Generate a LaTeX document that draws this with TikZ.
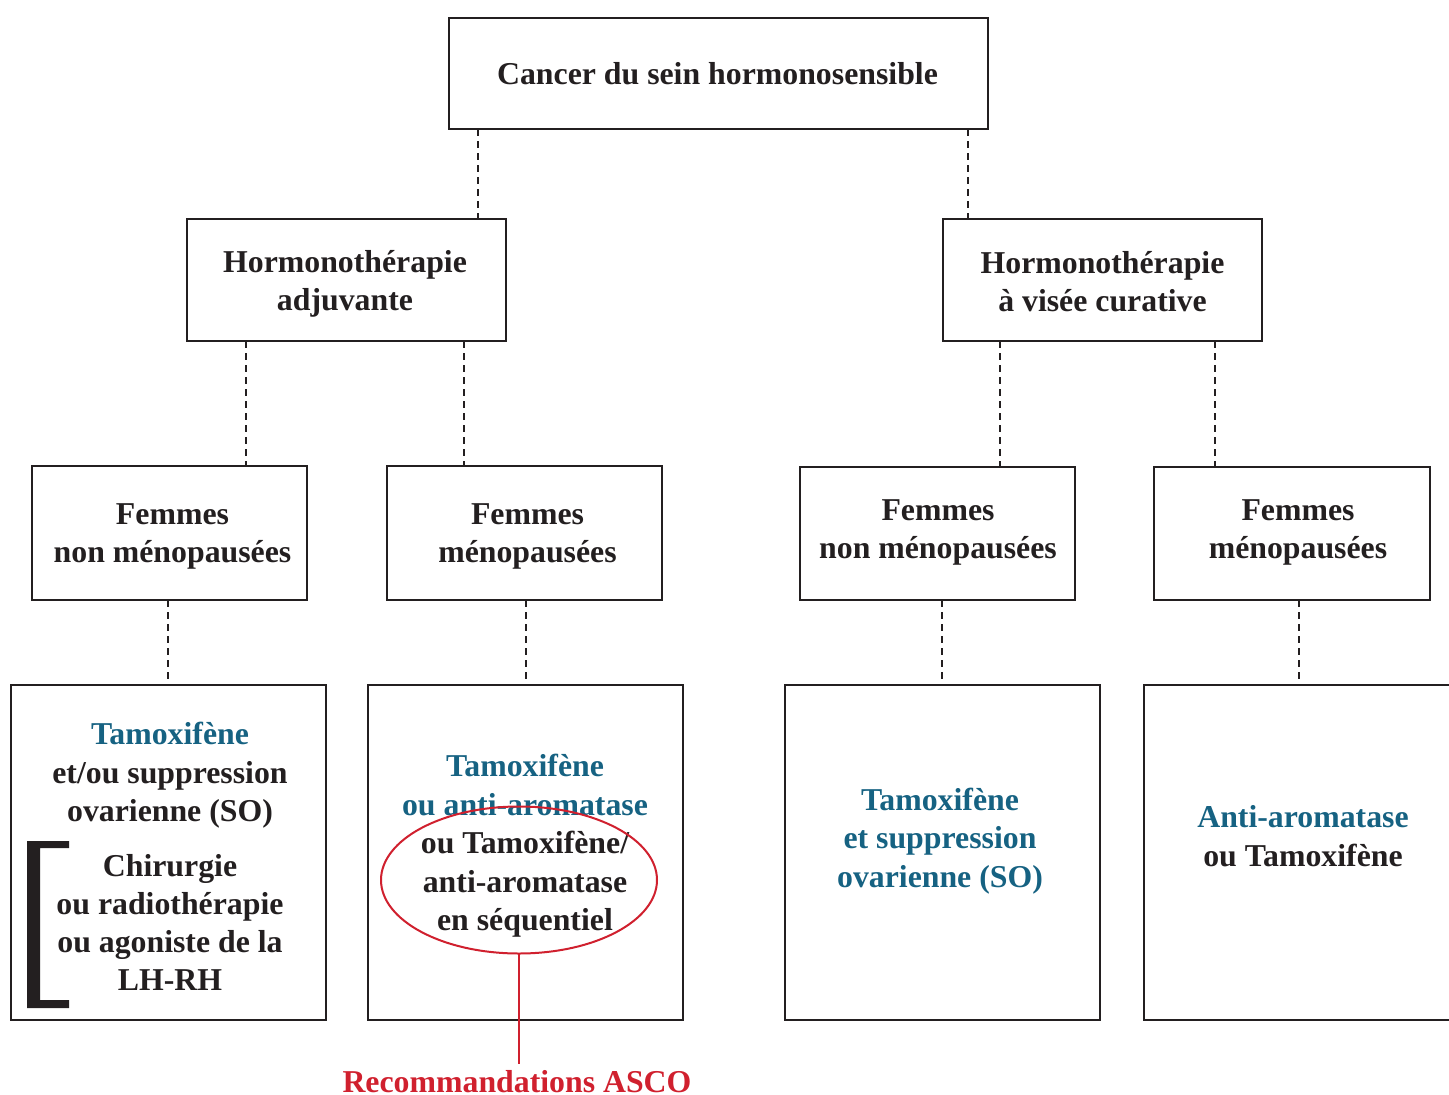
\documentclass[tikz,border=0pt]{standalone}
\usepackage{fontspec}
\setmainfont{Liberation Serif}
\usetikzlibrary{calc,shapes.geometric}
\definecolor{tblue}{RGB}{22,98,130}
\definecolor{tred}{RGB}{208,32,46}
\definecolor{tblack}{RGB}{35,31,32}
\begin{document}
\begin{tikzpicture}[x=1pt,y=-1pt,
  box/.style={draw=tblack, line width=2.6pt, inner sep=0pt, outer sep=0pt, anchor=north west},
  txt/.style={font=\bfseries\fontsize{31.8}{38.5}\selectfont, align=center, text=tblack, inner sep=0pt},
  conn/.style={draw=tblack, line width=2.8pt, dash pattern=on 7pt off 5pt},
  redl/.style={draw=tred, line width=2pt}]
\useasboundingbox (0,0) rectangle (1449,1095);
\clip (0,0) rectangle (1449,1095);
% header boxes
\node[box, minimum width=539pt, minimum height=111pt] (top) at (449,18) {};
\node[box, minimum width=319pt, minimum height=122pt] (ha) at (187,219) {};
\node[box, minimum width=319pt, minimum height=122pt] (hc) at (943,219) {};
\node[box, minimum width=275pt, minimum height=134pt] (l1) at (32,466) {};
\node[box, minimum width=275pt, minimum height=134pt] (l2) at (387,466) {};
\node[box, minimum width=275pt, minimum height=133pt] (r1) at (800,467) {};
\node[box, minimum width=276pt, minimum height=133pt] (r2) at (1154,467) {};
% header texts
\node[txt] (topt) at (717.5,74) {Cancer du sein hormonosensible};
\node[txt] (hat) at (345,284) {Hormonothérapie\\adjuvante};
\node[txt] (hct) at (1102.5,281.5) {Hormonothérapie\\à visée curative};
\node[txt] (l1t) at (172.5,536.5) {Femmes\\non ménopausées};
\node[txt] (l2t) at (527.5,536.5) {Femmes\\ménopausées};
\node[txt] (r1t) at (938,532.5) {Femmes\\non ménopausées};
\node[txt] (r2t) at (1298,532.5) {Femmes\\ménopausées};
% bottom boxes
\node[box, minimum width=315pt, minimum height=335pt] (b1) at (11,685) {};
\node[box, minimum width=315pt, minimum height=335pt] (b2) at (368,685) {};
\node[box, minimum width=315pt, minimum height=335pt] (b3) at (785,685) {};
\node[box, minimum width=330pt, minimum height=335pt] (b4) at (1144,685) {};
% texts in bottom boxes
\node[txt] (b1a) at (170,775.5) {{\color{tblue}Tamoxifène}\\et/ou suppression\\ovarienne (SO)};
\node[txt, font=\bfseries\fontsize{31.8}{38}\selectfont] (b1b) at (170,922) {Chirurgie\\ou radiothérapie\\ou agoniste de la\\LH-RH};
\node[txt] (b2t) at (525,846) {{\color{tblue}Tamoxifène}\\{\color{tblue}ou anti-aromatase}\\ou Tamoxifène/\\anti-aromatase\\en séquentiel};
\node[txt, text=tblue] (b3t) at (940,841) {Tamoxifène\\et suppression\\ovarienne (SO)};
\node[txt] (b4t) at (1303,836) {{\color{tblue}Anti-aromatase}\\ou Tamoxifène};
% bracket
\fill[tblack] (27,841) -- (69,841) -- (69,848) -- (40,848) -- (40,1000) -- (69,1000) -- (69,1008) -- (27,1008) -- cycle;
% dashed connectors
\coordinate (c1) at ($(top.south west)+(29,0)$);
\draw[conn] (c1) -- (c1 |- ha.north);
\coordinate (c2) at ($(top.south east)+(-20,0)$);
\draw[conn] (c2) -- (c2 |- hc.north);
\coordinate (c3) at ($(ha.south west)+(59,0)$);
\draw[conn] (c3) -- (c3 |- l1.north);
\coordinate (c4) at ($(ha.south west)+(277,0)$);
\draw[conn] (c4) -- (c4 |- l2.north);
\coordinate (c5) at ($(hc.south west)+(57,0)$);
\draw[conn] (c5) -- (c5 |- r1.north);
\coordinate (c6) at ($(hc.south west)+(272,0)$);
\draw[conn] (c6) -- (c6 |- r2.north);
\coordinate (c7) at ($(l1.south west)+(136,0)$);
\draw[conn] (c7) -- (c7 |- b1.north);
\coordinate (c8) at ($(l2.south west)+(139,0)$);
\draw[conn] (c8) -- (c8 |- b2.north);
\coordinate (c9) at ($(r1.south west)+(142,0)$);
\draw[conn] (c9) -- (c9 |- b3.north);
\coordinate (c10) at ($(r2.south west)+(145,0)$);
\draw[conn] (c10) -- (c10 |- b4.north);
% ASCO
\node[ellipse, redl, minimum width=276pt, minimum height=147pt, inner sep=0pt, outer sep=0pt] (ell) at (519,880) {};
\node[txt, text=tred, anchor=base] (asco) at (517,1092) {Recommandations ASCO};
\draw[redl, shorten >=6pt] (ell.south) -- (ell.south |- asco.north);
\end{tikzpicture}
\end{document}
